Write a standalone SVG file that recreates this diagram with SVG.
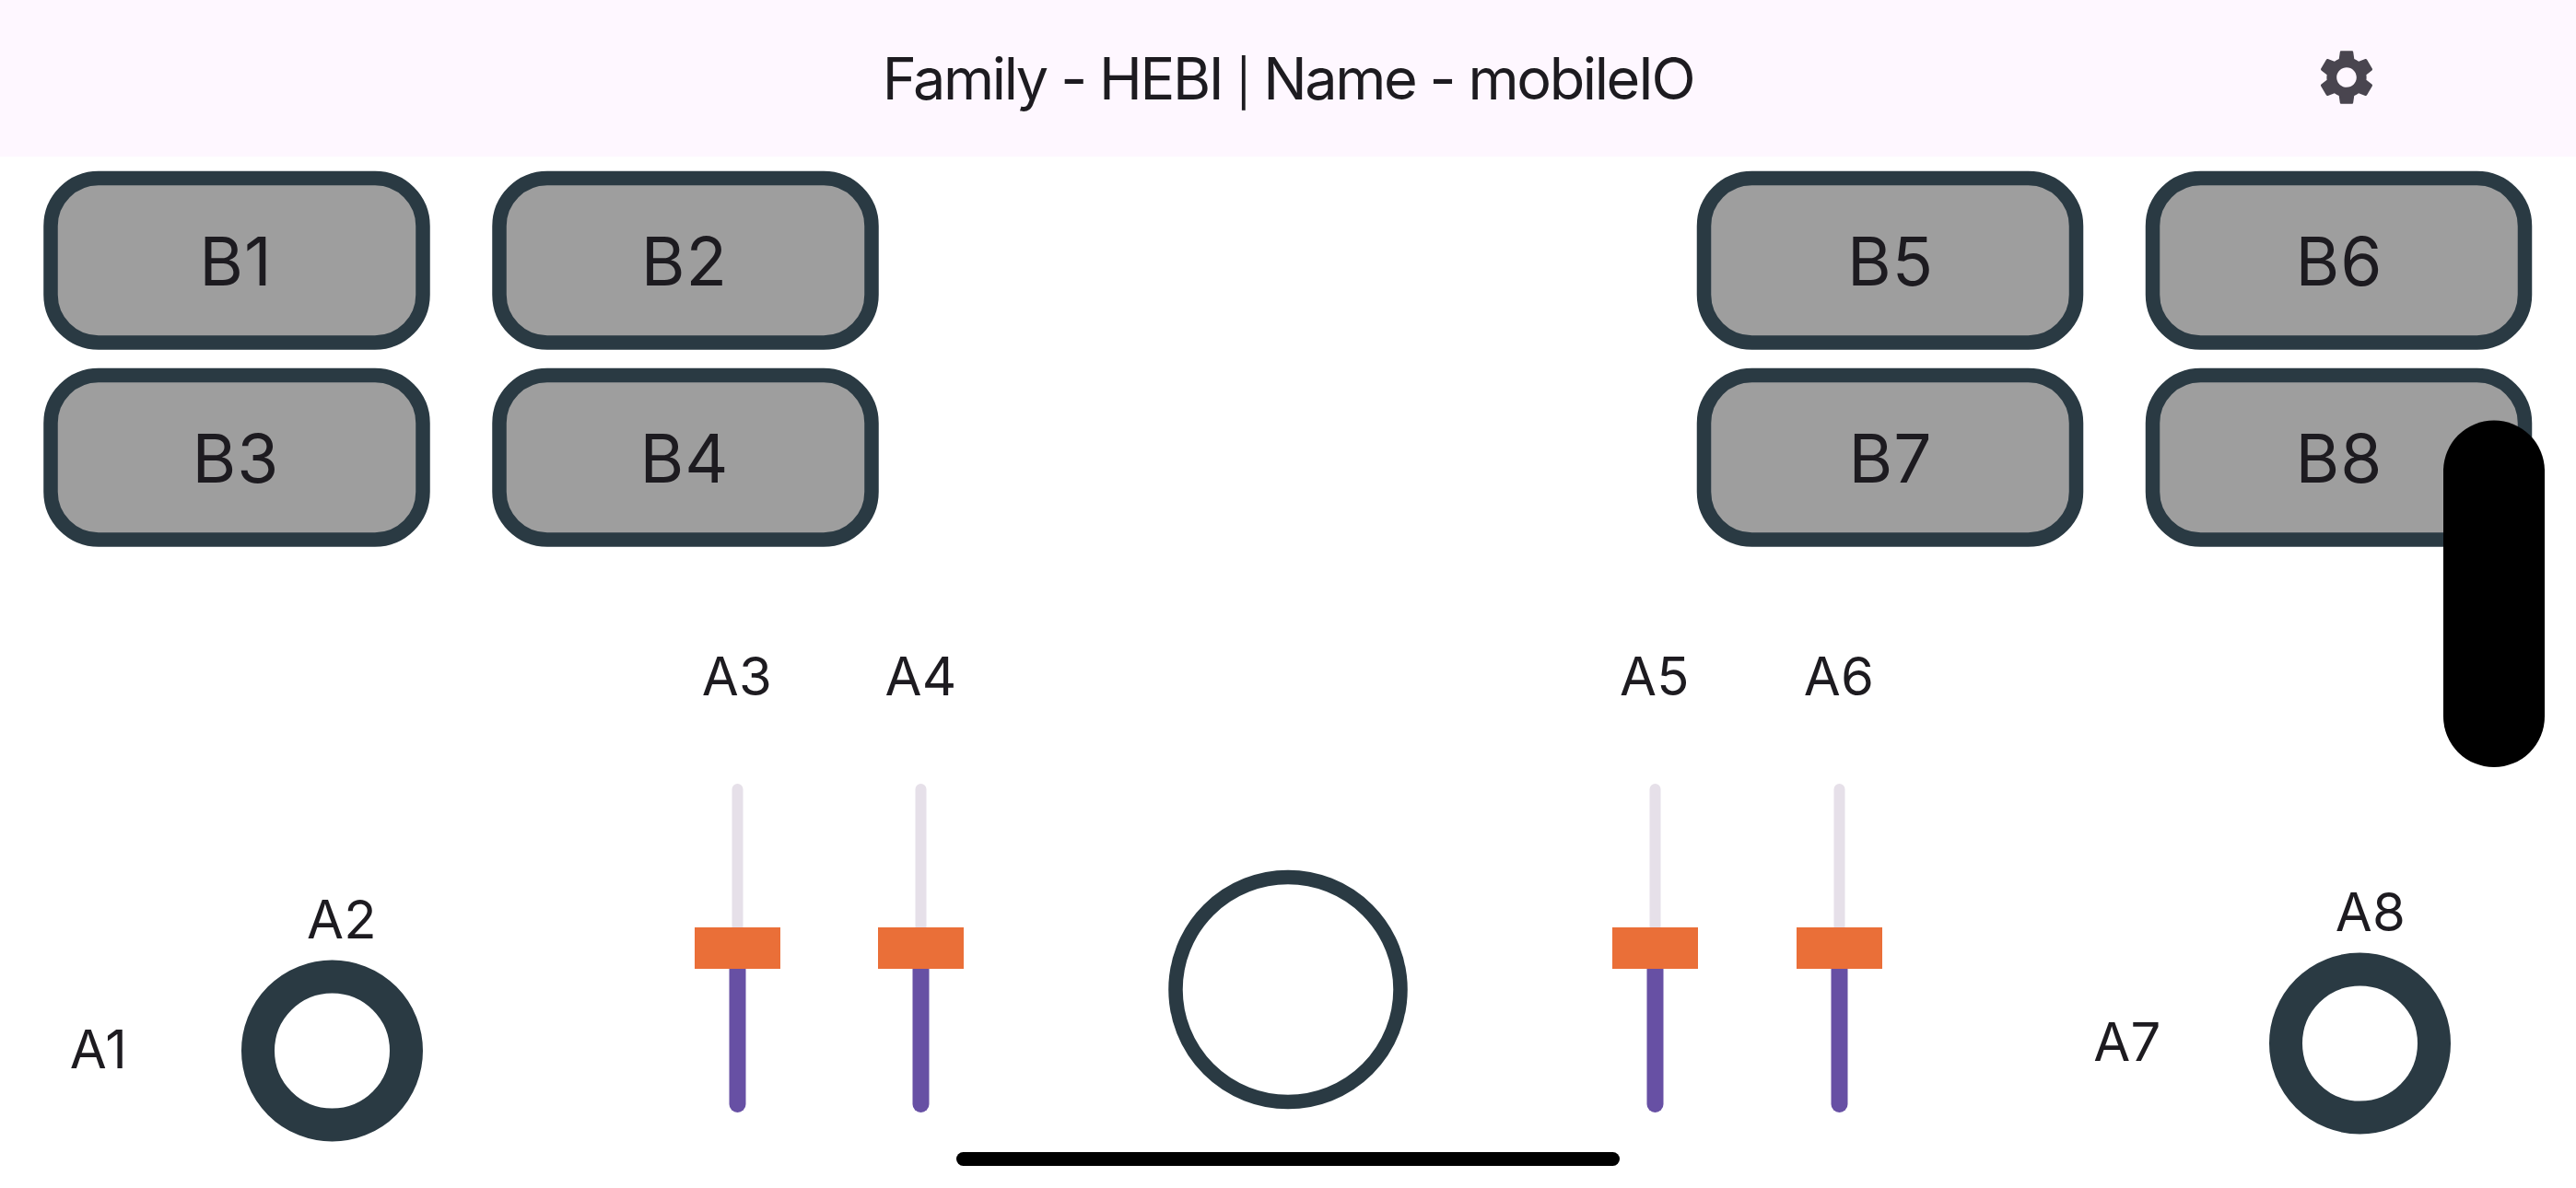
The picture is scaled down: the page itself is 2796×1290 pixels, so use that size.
<svg xmlns="http://www.w3.org/2000/svg" width="2796" height="1290" viewBox="0 0 2796 1290">
<style>
text{font-family:Inter,"Liberation Sans",sans-serif;fill:#1d1b20;text-anchor:middle}
.t{font-size:63px;letter-spacing:-2.4px}
.p{font-size:50px}
.b{font-size:73px;letter-spacing:1px}
.a{font-size:58px;letter-spacing:.3px}
.btn{fill:#9e9e9e;stroke:#2a3a43;stroke-width:15.5}
.ring{fill:#fff;stroke:#2a3a43;stroke-width:36}
.track{fill:#e6e0e9}
.active{fill:#6750a4}
.thumb{fill:#ea6f38}
</style>
<defs>
<rect id="btnShape" class="btn" x="0" y="0" width="404" height="178.5" rx="52" ry="52"/>
<g id="slider">
<rect class="track" x="-6" y="851" width="12" height="170" rx="6"/>
<rect class="active" x="-9" y="1040" width="18" height="168" rx="9"/>
<rect class="thumb" x="-46.5" y="1007" width="93" height="45"/>
</g>
</defs>
<rect width="2796" height="1290" fill="#fff"/>
<g id="header">
<rect width="2796" height="170" fill="#fef7ff"/>
<text class="t" x="1398" y="108">Family - HEBI <tspan class="p">|</tspan> Name - mobileIO</text>
<path fill="#49454f" transform="translate(2511 48) scale(3)" d="M19.14 12.94c.04-.3.06-.61.06-.94 0-.32-.02-.64-.07-.94l2.03-1.58c.18-.14.23-.41.12-.61l-1.92-3.32c-.12-.22-.37-.29-.59-.22l-2.39.96c-.5-.38-1.03-.7-1.62-.94l-.36-2.54c-.04-.24-.24-.41-.48-.41h-3.84c-.24 0-.43.17-.47.41l-.36 2.54c-.59.24-1.13.57-1.62.94l-2.39-.96c-.22-.08-.47 0-.59.22L2.74 8.87c-.12.21-.08.47.12.61l2.03 1.58c-.05.3-.09.63-.09.94s.02.64.07.94l-2.03 1.58c-.18.14-.23.41-.12.61l1.92 3.32c.12.22.37.29.59.22l2.39-.96c.5.38 1.03.7 1.62.94l.36 2.54c.05.24.24.41.48.41h3.84c.24 0 .44-.17.47-.41l.36-2.54c.59-.24 1.13-.56 1.62-.94l2.39.96c.22.08.47 0 .59-.22l1.92-3.32c.12-.22.07-.47-.12-.61l-2.01-1.58zM12 15.6c-1.98 0-3.6-1.62-3.6-3.6s1.62-3.6 3.6-3.6 3.6 1.62 3.6 3.6-1.62 3.6-3.6 3.6z"/>
</g>
<g id="B1"><use href="#btnShape" x="55" y="193.5"/><text class="b" x="256" y="310">B1</text></g>
<g id="B2"><use href="#btnShape" x="542" y="193.5"/><text class="b" x="743" y="310">B2</text></g>
<g id="B3"><use href="#btnShape" x="55" y="407.5"/><text class="b" x="256" y="524">B3</text></g>
<g id="B4"><use href="#btnShape" x="542" y="407.5"/><text class="b" x="743" y="524">B4</text></g>
<g id="B5"><use href="#btnShape" x="1849.5" y="193.5"/><text class="b" x="2052" y="310">B5</text></g>
<g id="B6"><use href="#btnShape" x="2336.5" y="193.5"/><text class="b" x="2539" y="310">B6</text></g>
<g id="B7"><use href="#btnShape" x="1849.5" y="407.5"/><text class="b" x="2052" y="524">B7</text></g>
<g id="B8"><use href="#btnShape" x="2336.5" y="407.5"/><text class="b" x="2539" y="524">B8</text></g>
<g id="pill"><rect x="2652" y="456.5" width="110" height="376.5" rx="55" fill="#000"/></g>
<g id="A1"><text class="a" x="107" y="1160">A1</text></g>
<g id="A2"><text class="a" x="371" y="1018.5">A2</text><circle class="ring" cx="360.5" cy="1141" r="80.5"/></g>
<g id="A3"><text class="a" x="800" y="754.5">A3</text><use href="#slider" x="800.5"/></g>
<g id="A4"><text class="a" x="999.5" y="754.5">A4</text><use href="#slider" x="999.5"/></g>
<g id="A5"><text class="a" x="1796" y="754.5">A5</text><use href="#slider" x="1796.5"/></g>
<g id="A6"><text class="a" x="1996" y="754.5">A6</text><use href="#slider" x="1996.5"/></g>
<g id="center"><circle cx="1398" cy="1074.5" r="122" fill="#fff" stroke="#2a3a43" stroke-width="15.5"/></g>
<g id="A7"><text class="a" x="2309" y="1151.5">A7</text></g>
<g id="A8"><text class="a" x="2573" y="1010.5">A8</text><circle class="ring" cx="2561.5" cy="1133" r="80.5"/></g>
<g id="home"><rect x="1038" y="1251" width="720" height="15" rx="7.5" fill="#000"/></g>
<g id="connectors"/>
</svg>
